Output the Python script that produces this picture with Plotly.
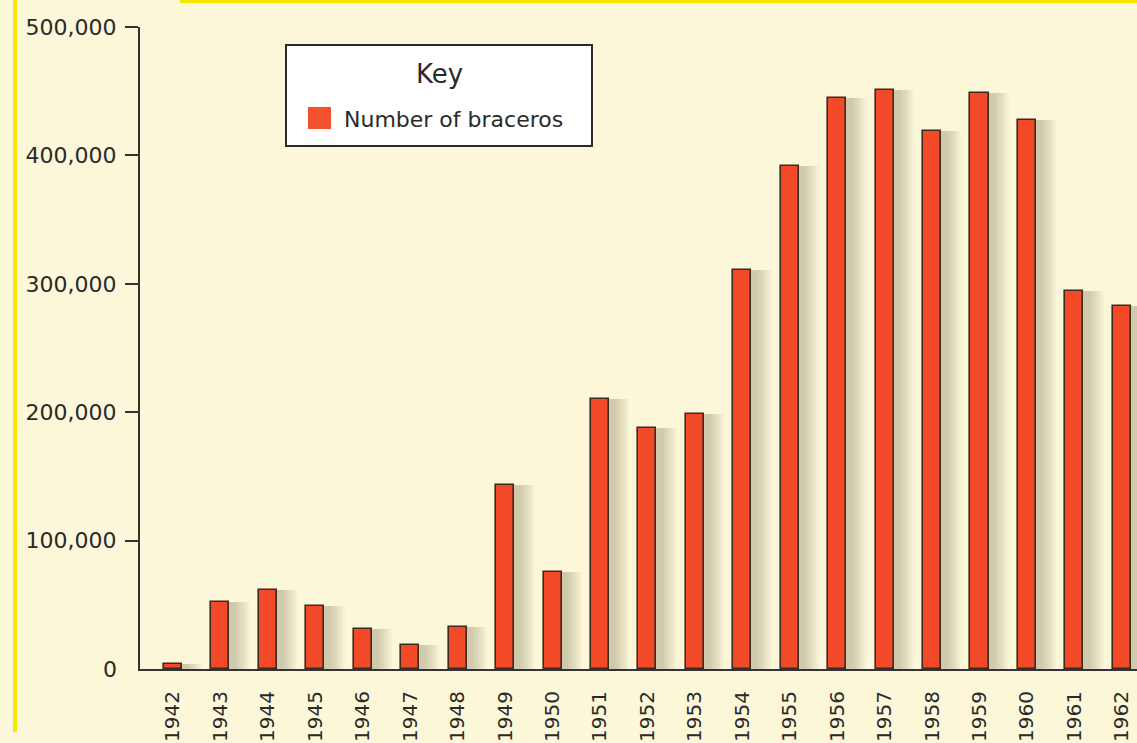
import plotly.graph_objects as go

years = ["1942", "1943", "1944", "1945", "1946", "1947", "1948", "1949", "1950", "1951",
         "1952", "1953", "1954", "1955", "1956", "1957", "1958", "1959", "1960", "1961", "1962"]
braceros = [4200, 52000, 61500, 49000, 31500, 19000, 32500, 143300, 75500, 210500,
            187700, 198500, 310500, 391500, 445000, 450800, 419200, 448400, 427600, 294400, 282700]
y_tickvals = [100000, 200000, 300000, 400000, 500000]
y_ticktext = ["100,000", "200,000", "300,000", "400,000", "500,000"]
series_name = "Number of braceros"

W, H = 1137, 743
ML, MR, MT, MB = 140, 0, 27, 74
PW, PH = W - ML - MR, H - MT - MB

def px(x):
    return (x - ML) / PW

def py(y):
    return (H - MB - y) / PH

BAR = "#F24A29"
EDGE = "#3d2a1e"
BG = "#FCF7D8"
TXT = "#2a2a2a"

fig = go.Figure()

# soft drop shadow behind bars (many thin translucent layers for a blurred look)
n_layers = 10
for k in range(n_layers):
    t = k / (n_layers - 1)
    x0 = -0.14 + 0.26 * t
    x1 = 0.62 - 0.30 * t
    fig.add_trace(go.Bar(
        x=years, y=braceros, width=x1 - x0, offset=x0,
        marker=dict(color="rgba(85,85,65,0.03)", line=dict(width=0)),
        hoverinfo="skip", showlegend=False))

fig.add_trace(go.Bar(
    x=years, y=braceros, width=0.38, offset=-0.19, name=series_name,
    marker=dict(color=BAR, line=dict(color=EDGE, width=1.6)),
    showlegend=False))

shapes = [
    # legend box
    dict(type="rect", xref="paper", yref="paper", x0=px(286), x1=px(592), y0=py(146), y1=py(45),
         fillcolor="white", line=dict(color="#2a2a2a", width=2), layer="above"),
    dict(type="rect", xref="paper", yref="paper", x0=px(308), x1=px(331), y0=py(129), y1=py(107),
         fillcolor="#F5502E", line=dict(width=0), layer="above"),
    # yellow page borders
    dict(type="rect", xref="paper", yref="paper", x0=px(13), x1=px(17), y0=py(732), y1=py(0),
         fillcolor="#F6E500", line=dict(width=0), layer="above"),
    dict(type="rect", xref="paper", yref="paper", x0=px(180), x1=px(W), y0=py(3), y1=py(0),
         fillcolor="#F6E500", line=dict(width=0), layer="above"),
]

annotations = [
    dict(text="Key", xref="paper", yref="paper", x=px(439), y=py(74), xanchor="center", yanchor="middle",
         showarrow=False, font=dict(family="DejaVu Sans", size=26, color=TXT)),
    dict(text=series_name, xref="paper", yref="paper", x=px(342), y=py(119), xanchor="left", yanchor="middle",
         showarrow=False, font=dict(family="DejaVu Sans", size=22, color=TXT)),
    dict(text="0", xref="paper", yref="y", x=px(119), y=0, xanchor="right", yanchor="middle",
         showarrow=False, font=dict(family="DejaVu Sans", size=22, color=TXT)),
]

fig.update_layout(
    width=W, height=H,
    margin=dict(l=ML, r=MR, t=MT, b=MB, pad=0, autoexpand=False),
    paper_bgcolor=BG, plot_bgcolor=BG,
    barmode="overlay", bargap=0,
    shapes=shapes, annotations=annotations,
    font=dict(family="DejaVu Sans", size=22, color=TXT),
    xaxis=dict(type="category", range=[-0.695, 20.32], showgrid=False, zeroline=False,
               automargin=False,
               showline=True, linecolor="#333333", linewidth=2,
               ticks="", tickangle=-90, ticklabelstandoff=12,
               tickfont=dict(family="DejaVu Sans", size=20, color=TXT)),
    yaxis=dict(range=[0, 500000], showgrid=False, zeroline=False,
               automargin=False,
               showline=True, linecolor="#333333", linewidth=2,
               tickvals=y_tickvals, ticktext=y_ticktext,
               ticks="outside", ticklen=13, tickwidth=2, tickcolor="#333333",
               ticklabelstandoff=4,
               tickfont=dict(family="DejaVu Sans", size=22, color=TXT)),
)

fig.write_html("out.html")
